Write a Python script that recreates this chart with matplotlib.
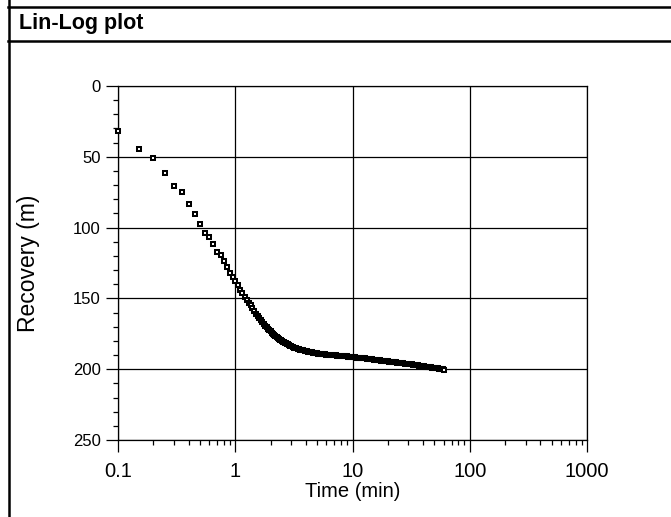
import matplotlib.pyplot as plt
from matplotlib.lines import Line2D
from matplotlib.ticker import FixedLocator, NullFormatter

plt.rcParams['font.family'] = ['Liberation Sans', 'DejaVu Sans']

# time since start of recovery (min)
early_time = [0.1, 0.15, 0.2, 0.25, 0.3, 0.35, 0.4, 0.45, 0.5, 0.55, 0.6, 0.65,
              0.7, 0.75, 0.8, 0.85, 0.9, 0.95]
early_rec = [31.7, 44.7, 50.6, 61.3, 70.8, 75.1, 83.3, 90.7, 97.3, 103.5, 106.3, 111.7,
             117.0, 119.2, 123.8, 128.1, 131.9, 135.2]

mid_time = [1.0, 1.05, 1.1, 1.15, 1.2, 1.25, 1.3, 1.35, 1.4, 1.45, 1.5, 1.55, 1.6, 1.65,
            1.7, 1.75, 1.8, 1.85, 1.9, 1.95, 2.0, 2.05, 2.1, 2.15, 2.2, 2.25, 2.3, 2.35,
            2.4, 2.45, 2.5, 2.55, 2.6, 2.65, 2.7, 2.75, 2.8, 2.85, 2.9, 2.95, 3.0]
mid_rec = [137.5, 140.8, 143.8, 146.3, 148.8, 151.0, 153.0, 155.0, 157.0, 159.0, 160.8,
           162.5, 164.1, 165.5, 166.8, 168.0, 169.2, 170.3, 171.3, 172.3, 173.3, 174.2,
           175.0, 175.8, 176.5, 177.2, 177.9, 178.5, 179.1, 179.6, 180.1, 180.6, 181.0,
           181.4, 181.8, 182.2, 182.5, 182.9, 183.2, 183.5, 183.8]

late_time = [3.1, 3.2, 3.3, 3.4, 3.5, 3.6, 3.7, 3.8, 3.9, 4.0, 4.1, 4.2, 4.3, 4.4, 4.5,
             4.6, 4.7, 4.8, 4.9, 5.0, 5.1, 5.2, 5.3, 5.4, 5.5, 5.6, 5.7, 5.8, 5.9, 6.0,
             6.2, 6.4, 6.6, 6.8, 7.0, 7.2, 7.4, 7.6, 7.8, 8.0, 8.2, 8.4, 8.6, 8.8, 9.0,
             9.2, 9.4, 9.6, 9.8, 10.0, 10.2, 10.4, 10.6, 10.8, 11.0, 11.2, 11.4, 11.6,
             11.8, 12.0, 12.4, 12.8, 13.2, 13.6, 14.0, 14.4, 14.8, 15.2, 15.6, 16.0,
             16.4, 16.8, 17.2, 17.6, 18.0, 18.4, 18.8, 19.2, 19.6, 20.0, 20.4, 20.8,
             21.2, 21.6, 22.0, 22.4, 22.8, 23.2, 23.6, 24.0, 25, 26, 27, 28, 29, 30,
             31, 32, 33, 34, 35, 36, 37, 38, 39, 40, 41, 42, 43, 44, 45, 46, 47, 48,
             49, 50, 51, 52, 53, 54, 55, 56, 57, 58, 59, 60]
late_rec = [184.3, 184.7, 185.1, 185.5, 185.8, 186.1, 186.4, 186.7, 186.9, 187.2, 187.4,
            187.6, 187.8, 188.0, 188.2, 188.3, 188.5, 188.6, 188.8, 188.9, 189.0, 189.1,
            189.2, 189.3, 189.4, 189.5, 189.55, 189.6, 189.7, 189.75,
            189.85, 189.95, 190.0, 190.1, 190.2, 190.3, 190.35, 190.45, 190.5, 190.6,
            190.7, 190.75, 190.85, 190.9, 191.0, 191.1, 191.2, 191.3, 191.4, 191.5,
            191.55, 191.6, 191.7, 191.75, 191.8, 191.85, 191.9, 192.0, 192.05, 192.1,
            192.2, 192.4, 192.7, 192.8, 192.9, 193.0, 193.1, 193.2, 193.3, 193.4,
            193.5, 193.6, 193.8, 193.9, 194.0, 194.1, 194.2, 194.3, 194.4, 194.5,
            194.6, 194.65, 194.7, 194.8, 194.9, 195.0, 195.05, 195.1, 195.2, 195.3,
            195.45, 195.6, 195.8, 196.0, 196.15, 196.3, 196.5, 196.65, 196.8, 197.0,
            197.15, 197.3, 197.45, 197.6, 197.7, 197.85, 198.0, 198.1, 198.25, 198.35,
            198.5, 198.6, 198.7, 198.8, 198.9, 199.0, 199.1, 199.2, 199.3, 199.45,
            199.55, 199.7, 199.8, 199.95, 200.1, 200.25]

time_min = early_time + mid_time + late_time
recovery = early_rec + mid_rec + late_rec

x_ticks = [0.1, 1, 10, 100, 1000]
x_tick_labels = ['0.1', '1', '10', '100', '1000']
y_ticks = [0, 50, 100, 150, 200, 250]

fig = plt.figure(figsize=(6.71, 5.17), dpi=100)

# frame lines of the panel and the header row
fig.add_artist(Line2D([8.5 / 671, 8.5 / 671], [0, 1], color='black', lw=1.8))
fig.add_artist(Line2D([8 / 671, 1], [1 - 6.5 / 517, 1 - 6.5 / 517], color='black', lw=1.8))
fig.add_artist(Line2D([8 / 671, 1], [1 - 41 / 517, 1 - 41 / 517], color='black', lw=1.8))
fig.text(19 / 671, 1 - 24 / 517, 'Lin-Log plot', fontsize=15.5, fontweight='bold',
         ha='left', va='center')

ax = fig.add_axes([118 / 671, 1 - 440 / 517, 469 / 671, 354 / 517])
ax.plot(time_min, recovery, linestyle='none', marker='s', markersize=3.3,
        markerfacecolor='white', markeredgecolor='black', markeredgewidth=1.45,
        clip_on=False, zorder=3)

ax.set_xscale('log')
ax.set_xlim(0.1, 1000)
ax.set_ylim(250, 0)
ax.set_xticks(x_ticks)
ax.set_xticklabels(x_tick_labels)
ax.xaxis.set_minor_locator(FixedLocator([m * d for d in [0.1, 1, 10, 100] for m in range(2, 10)]))
ax.xaxis.set_minor_formatter(NullFormatter())
ax.set_yticks(y_ticks)
ax.yaxis.set_minor_locator(FixedLocator([v for v in range(0, 251, 10) if v % 50]))

ax.tick_params(which='major', direction='out', length=8.5, width=0.9, color='black')
ax.tick_params(which='minor', direction='out', length=3.6, width=0.9, color='black')
ax.tick_params(axis='y', which='major', labelsize=12, pad=4)
ax.tick_params(axis='x', which='major', labelsize=14.5, pad=7)

ax.grid(True, which='major', color='black', linewidth=0.9)
for s in ax.spines.values():
    s.set_linewidth(0.9)

ax.set_xlabel('Time (min)', fontsize=14.5, labelpad=1)
ax.set_ylabel('Recovery (m)', fontsize=16.5)
ax.yaxis.set_label_coords(-0.166, 0.5)

plt.savefig('out.png', dpi=100)
